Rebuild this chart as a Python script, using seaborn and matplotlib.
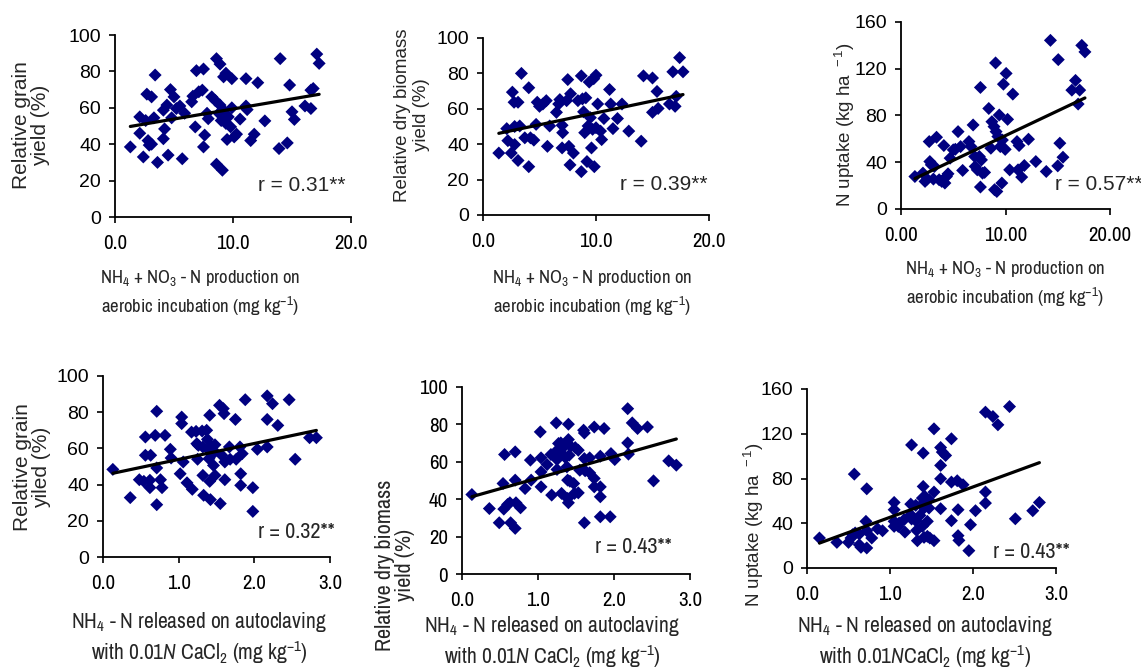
import matplotlib
matplotlib.use("Agg")
import matplotlib.pyplot as plt
from matplotlib import font_manager as fm
import seaborn as sns
import pandas as pd

# ---- data: (x, y) observations for each soil-test relationship ----
grain_vs_incubation = [
    (1.3, 38.5), (2.1, 55), (2.1, 46), (2.4, 33), (2.6, 53), (2.7, 67.5), (2.8, 42), (2.9, 39.5),
    (3.1, 66), (3.1, 40), (3.3, 54.5), (3.4, 78), (3.6, 30), (4.1, 43), (4.1, 58.7), (4.2, 48.4),
    (4.4, 61.5), (4.5, 34), (4.7, 70), (4.8, 54.5), (5.0, 66), (5.2, 59.6), (5.5, 61), (5.7, 32),
    (5.9, 57), (6.5, 63.3), (6.6, 66.4), (6.8, 49.5), (6.9, 80.4), (7.1, 68.8), (7.4, 69.7),
    (7.5, 81.3), (7.6, 45), (7.5, 38.5), (7.8, 57), (7.9, 54), (8.2, 66), (8.5, 64), (8.6, 87),
    (8.6, 29), (8.8, 57), (8.9, 84), (8.9, 61.5), (9.0, 53), (9.1, 25.7), (9.2, 58.7), (9.2, 77),
    (9.4, 79), (9.4, 51.4), (9.5, 42.6), (9.6, 55), (9.8, 49.5), (9.9, 76), (9.9, 60), (10.1, 44),
    (10.3, 45.5), (10.6, 53.8), (11.1, 76), (11.1, 61), (11.2, 59), (11.5, 42), (11.8, 45.5),
    (12.1, 73.8), (12.7, 52.8), (13.9, 37.6), (14.0, 87), (14.6, 40.7), (14.8, 72.5), (15.0, 57.8),
    (15.2, 53.6), (16.1, 61), (16.6, 69.7), (16.6, 59.6), (16.8, 70.6), (17.1, 89.5), (17.3, 84.4),
]

biomass_vs_incubation = [
    (1.4, 35), (2.1, 48.8), (2.2, 42), (2.5, 35), (2.6, 69.4), (2.75, 63.7), (2.8, 39.8), (2.8, 50),
    (3.1, 63.7), (3.1, 30.8), (3.25, 50.3), (3.4, 80), (3.7, 43.6), (4.05, 27.3), (4.05, 71.9),
    (4.2, 43.6), (4.5, 42.3), (4.7, 51.2), (4.8, 63.7), (5.0, 61.4), (5.3, 62.7), (5.6, 64.6),
    (5.7, 38.8), (5.9, 50.3), (6.5, 58), (6.7, 62.7), (6.8, 65.2), (7.0, 50.7), (7.05, 46.5),
    (7.0, 37.9), (7.4, 64.6), (7.5, 76.5), (7.6, 38.8), (7.7, 28.3), (7.75, 68.5), (8.0, 35),
    (8.4, 64.6), (8.7, 78.6), (8.7, 24.5), (8.8, 65.6), (8.9, 58.3), (9.0, 46.5), (9.1, 66.2),
    (9.2, 30.2), (9.3, 50.3), (9.4, 75.1), (9.5, 55), (9.6, 37.9), (9.7, 48.4), (9.8, 77),
    (9.85, 27.3), (10.0, 79), (10.0, 49.3), (10.15, 62.7), (10.4, 47.4), (10.5, 42.6), (10.7, 54.5),
    (11.2, 70.9), (11.3, 62.7), (11.5, 48.8), (11.9, 54.5), (12.3, 62.7), (12.9, 47.4), (14.0, 41.7),
    (14.2, 78.6), (15.0, 77.4), (15.0, 58), (15.4, 69.8), (15.5, 60.2), (16.5, 62.7), (16.8, 80.9),
    (17.0, 61.4), (17.1, 67), (17.4, 88.9), (17.7, 80.9),
]

uptake_vs_incubation = [
    (1.33, 27.8), (2.1, 30.7), (2.3, 23.6), (2.5, 25.6), (2.7, 57.7), (2.76, 40.6), (2.9, 37.8),
    (3.1, 25.6), (3.2, 36.4), (3.4, 61.4), (3.65, 25), (3.9, 23.6), (4.1, 54.3), (4.2, 22.2),
    (4.35, 27.8), (4.5, 30.1), (4.7, 43.5), (5.0, 50.6), (5.2, 51.1), (5.46, 66.2), (5.7, 53.4),
    (5.9, 33), (6.5, 57.7), (6.7, 53.4), (6.9, 71.9), (7.05, 44.9), (7.1, 36.4), (7.3, 33.5),
    (7.5, 44.9), (7.6, 104), (7.6, 18.8), (7.7, 42), (7.8, 30.7), (8.0, 31.3), (8.4, 86), (8.6, 52),
    (8.7, 74.7), (8.9, 70.5), (8.95, 16.5), (9.05, 125), (9.1, 66.2), (9.17, 15), (9.27, 62),
    (9.4, 80.4), (9.5, 53.4), (9.65, 22.2), (9.7, 59), (9.8, 106.8), (9.97, 51), (10.06, 116),
    (10.2, 76.7), (10.4, 33.5), (10.7, 98.3), (11.1, 57.7), (11.2, 33.5), (11.3, 54.3),
    (11.55, 27.3), (11.8, 37.2), (12.2, 59.7), (12.9, 40.6), (13.9, 32.1), (14.3, 144.3),
    (15.0, 36.9), (15.05, 127.8), (15.2, 56.3), (15.5, 44.3), (16.35, 101.7), (16.7, 110),
    (16.95, 89.8), (17.1, 101.7), (17.3, 140), (17.6, 134.4),
]

grain_vs_autoclave = [
    (0.13, 48.4), (0.36, 32.8), (0.48, 42.7), (0.54, 41.8), (0.56, 66.3), (0.56, 56.2), (0.62, 42.4),
    (0.62, 38.3), (0.63, 56.2), (0.69, 67.2), (0.71, 80.5), (0.71, 49.2), (0.71, 28.9), (0.76, 42.7),
    (0.78, 38.3), (0.82, 67.2), (0.89, 59.5), (0.9, 54.7), (1.02, 46), (1.04, 77.3), (1.04, 73.7),
    (1.06, 52.5), (1.11, 41), (1.18, 37.4), (1.17, 69), (1.23, 69.4), (1.24, 62.6), (1.25, 54),
    (1.26, 61.7), (1.31, 69.6), (1.32, 60.8), (1.32, 45.1), (1.33, 34.1), (1.37, 70), (1.38, 65),
    (1.4, 59), (1.4, 54.3), (1.41, 78.3), (1.41, 41.8), (1.42, 31.7), (1.43, 61.3), (1.44, 56.5),
    (1.46, 50.6), (1.47, 58.4), (1.48, 45.1), (1.48, 62), (1.54, 83.8), (1.55, 29.5), (1.57, 56.2),
    (1.59, 82), (1.6, 79.2), (1.61, 52.5), (1.61, 42.7), (1.67, 60.8), (1.68, 54), (1.75, 76),
    (1.76, 54), (1.81, 60.8), (1.82, 46), (1.82, 39.6), (1.84, 57.1), (1.88, 86.9), (1.98, 38.3),
    (1.98, 25.2), (2.04, 59.5), (2.17, 89), (2.17, 60.8), (2.17, 76), (2.24, 84.7), (2.31, 72.7),
    (2.46, 86.9), (2.54, 54), (2.73, 65.9), (2.82, 65.9),
]

biomass_vs_autoclave = [
    (0.13, 42.5), (0.36, 35), (0.49, 27.4), (0.55, 34.7), (0.54, 48.4), (0.56, 63.9), (0.6, 37.2),
    (0.63, 38.1), (0.64, 27.4), (0.7, 24.4), (0.7, 50.2), (0.7, 65.3), (0.71, 38.1), (0.77, 35.4),
    (0.83, 45.7), (0.9, 60.9), (0.91, 50.2), (1.03, 76), (1.04, 62.1), (1.04, 54.6), (1.04, 46.6),
    (1.12, 58.5), (1.17, 63.9), (1.18, 42.2), (1.24, 80.8), (1.24, 65.7), (1.25, 61.2), (1.25, 55.9),
    (1.27, 69.8), (1.3, 70.1), (1.31, 43.1), (1.31, 64.4), (1.34, 68), (1.36, 62.3), (1.38, 57.3),
    (1.39, 50.2), (1.39, 40.4), (1.4, 71.9), (1.4, 38.1), (1.4, 80.1), (1.41, 63.5), (1.42, 49.6),
    (1.43, 68.3), (1.47, 48.4), (1.48, 43.1), (1.49, 67.6), (1.53, 66.2), (1.53, 43.4), (1.55, 55.5),
    (1.6, 76.9), (1.61, 75.4), (1.61, 61.7), (1.61, 27.4), (1.62, 55.2), (1.68, 62.1), (1.68, 54.1),
    (1.74, 51.1), (1.74, 46.6), (1.74, 78.6), (1.82, 63), (1.82, 46.6), (1.82, 41.3), (1.82, 30.6),
    (1.87, 77.8), (1.95, 30.6), (1.96, 64.4), (2.01, 61.2), (2.18, 88.4), (2.18, 70.1), (2.19, 64.1),
    (2.24, 80.8), (2.31, 77.8), (2.44, 78.6), (2.52, 49.8), (2.72, 60.5), (2.82, 58.2),
]

uptake_vs_autoclave = [
    (0.15, 26.8), (0.36, 22.9), (0.5, 22.9), (0.53, 26.8), (0.55, 29.8), (0.57, 83.9), (0.58, 31.3),
    (0.63, 30.4), (0.63, 20.8), (0.65, 18.5), (0.71, 41.7), (0.72, 70.8), (0.72, 33.3), (0.72, 17.9),
    (0.78, 26.8), (0.85, 35.1), (0.91, 33.3), (1.05, 58.6), (1.05, 52.1), (1.05, 41.7), (1.05, 37.2),
    (1.1, 37.2), (1.11, 40.2), (1.17, 43.2), (1.18, 32.1), (1.25, 57.1), (1.25, 47.6), (1.26, 110),
    (1.26, 43.8), (1.31, 56), (1.31, 42.3), (1.32, 33.6), (1.33, 24.4), (1.36, 47), (1.38, 56.5),
    (1.39, 62.5), (1.39, 37.2), (1.4, 72.9), (1.4, 102.7), (1.41, 27.4), (1.41, 53.6), (1.42, 64),
    (1.43, 61.9), (1.45, 28.3), (1.45, 41.7), (1.47, 53.6), (1.47, 61), (1.48, 26.8), (1.53, 67.9),
    (1.53, 124.4), (1.53, 24.4), (1.61, 79.8), (1.61, 91.7), (1.61, 53), (1.61, 107.7), (1.63, 103.6),
    (1.67, 100.6), (1.74, 115.5), (1.74, 76.8), (1.74, 42.3), (1.81, 78), (1.82, 52.1), (1.82, 28.9),
    (1.83, 24.7), (1.88, 74.4), (1.95, 15.5), (1.97, 38.7), (2.03, 51.2), (2.15, 67.9), (2.15, 58),
    (2.15, 139.3), (2.24, 135.4), (2.3, 128), (2.44, 144.3), (2.51, 44), (2.72, 51.2), (2.8, 58.6),
]

r_labels = ["r = 0.31**", "r = 0.39**", "r = 0.57**", "r = 0.32**", "r = 0.43**", "r = 0.43**"]

x_ticks_incubation = [0, 10, 20]
x_ticklabels_incubation = ["0.0", "10.0", "20.0"]
x_ticklabels_incubation_uptake = ["0.00", "10.00", "20.00"]
x_ticks_autoclave = [0, 1, 2, 3]
x_ticklabels_autoclave = ["0.0", "1.0", "2.0", "3.0"]
y_ticks_yield = [0, 20, 40, 60, 80, 100]
y_ticks_uptake = [0, 40, 80, 120, 160]

xlabel_incubation = "NH$_4$ + NO$_3$ - N production on\naerobic incubation (mg kg$^{-1}$)"
xlabel_autoclave = "NH$_4$ - N released on autoclaving\nwith 0.01$\\mathit{N}$ CaCl$_2$ (mg kg$^{-1}$)"
xlabel_autoclave_tight = "NH$_4$ - N released on autoclaving\nwith 0.01$\\mathit{N}$CaCl$_2$ (mg kg$^{-1}$)"
ylabel_grain = "Relative grain\nyield (%)"
ylabel_grain_b = "Relative grain\nyiled (%)"
ylabel_biomass = "Relative dry biomass\nyield (%)"
ylabel_uptake = "N uptake (kg ha$^{\\ \\ -1}$)"

# ---- fonts: a narrow sans for most labels, an Arial-like sans for the rest ----
sns.set_style("ticks")
_installed = {f.name for f in fm.fontManager.ttflist}
NARROW_NAME = next((n for n in ["Liberation Sans Narrow", "Arial Narrow", "Archivo Narrow",
                                "Roboto Condensed", "Asap Condensed"] if n in _installed),
                   "Liberation Sans")
NAR = [NARROW_NAME, "DejaVu Sans"]
REG = ["Liberation Sans", "DejaVu Sans"]
plt.rcParams["font.family"] = NAR
plt.rcParams["mathtext.fontset"] = "custom"
plt.rcParams["mathtext.rm"] = NARROW_NAME
plt.rcParams["mathtext.it"] = NARROW_NAME + ":italic"
plt.rcParams["mathtext.default"] = "regular"

MARK = "#000080"
W, H = 1141, 670
fig = plt.figure(figsize=(W / 100, H / 100), dpi=100)
fig.patch.set_facecolor("white")


def axes_at(box):
    x0, yt, x1, yb = box
    return fig.add_axes([x0 / W, 1 - yb / H, (x1 - x0) / W, (yb - yt) / H])


def frac(box, px, py):
    x0, yt, x1, yb = box
    return (px - x0) / (x1 - x0), (yb - py) / (yb - yt)


panels = [
    dict(data=grain_vs_incubation, box=(115, 35, 351, 217), xlim=20, ylim=100,
         xt=x_ticks_incubation, xtl=x_ticklabels_incubation, yt=y_ticks_yield,
         ytf=(REG, 14), xtf=(NAR, 15),
         xl=xlabel_incubation, xl_pos=(200, 293), xlf=(13.5, 1.35),
         yl=ylabel_grain, yl_pos=(31, 125), ylf=(REG, 15, 0.95),
         r_pos=(258, 185), rf=(REG, 15)),
    dict(data=biomass_vs_incubation, box=(483, 38, 709, 215), xlim=20, ylim=100,
         xt=x_ticks_incubation, xtl=x_ticklabels_incubation, yt=y_ticks_yield,
         ytf=(REG, 14), xtf=(NAR, 15),
         xl=xlabel_incubation, xl_pos=(592, 293), xlf=(13.5, 1.35),
         yl=ylabel_biomass, yl_pos=(412, 115), ylf=(REG, 13.5, 1.1),
         r_pos=(620, 185), rf=(REG, 15)),
    dict(data=uptake_vs_incubation, box=(901, 22, 1110, 209), xlim=20, ylim=160,
         xt=x_ticks_incubation, xtl=x_ticklabels_incubation_uptake, yt=y_ticks_uptake,
         ytf=(REG, 14), xtf=(NAR, 15),
         xl=xlabel_incubation, xl_pos=(1005, 284), xlf=(13.5, 1.35),
         yl=ylabel_uptake, yl_pos=(845, 125), ylf=(REG, 13.5, 1.0),
         r_pos=(1055, 185), rf=(REG, 15)),
    dict(data=grain_vs_autoclave, box=(103, 376, 330, 557), xlim=3, ylim=100,
         xt=x_ticks_autoclave, xtl=x_ticklabels_autoclave, yt=y_ticks_yield,
         ytf=(REG, 14), xtf=(NAR, 15),
         xl=xlabel_autoclave, xl_pos=(199, 638), xlf=(15.5, 1.2),
         yl=ylabel_grain_b, yl_pos=(32, 467), ylf=(REG, 15, 1.05),
         r_pos=(258, 532), rf=(NAR, 16)),
    dict(data=biomass_vs_autoclave, box=(462, 387, 690, 574), xlim=3, ylim=100,
         xt=x_ticks_autoclave, xtl=x_ticklabels_autoclave, yt=y_ticks_yield,
         ytf=(NAR, 15), xtf=(NAR, 15),
         xl=xlabel_autoclave, xl_pos=(552, 642), xlf=(15.5, 1.2),
         yl=ylabel_biomass, yl_pos=(395, 565), ylf=(NAR, 16, 1.05),
         r_pos=(595, 547), rf=(NAR, 16)),
    dict(data=uptake_vs_autoclave, box=(807, 389, 1056, 568), xlim=3, ylim=160,
         xt=x_ticks_autoclave, xtl=x_ticklabels_autoclave, yt=y_ticks_uptake,
         ytf=(REG, 14), xtf=(NAR, 15),
         xl=xlabel_autoclave_tight, xl_pos=(925, 642), xlf=(15.5, 1.2),
         yl=ylabel_uptake, yl_pos=(754, 525), ylf=(REG, 13.5, 1.0),
         r_pos=(993, 552), rf=(NAR, 16)),
]

for p, rlab in zip(panels, r_labels):
    ax = axes_at(p["box"])
    df = pd.DataFrame(p["data"], columns=["x", "y"])
    sns.regplot(data=df, x="x", y="y", ax=ax, ci=None, truncate=True, marker="D",
                scatter_kws=dict(s=44, color=MARK, alpha=1, edgecolor="none", linewidths=0,
                                 zorder=2),
                line_kws=dict(color="black", lw=2.3, zorder=3))
    ax.set_xlim(0, p["xlim"])
    ax.set_ylim(0, p["ylim"])
    ax.set_xticks(p["xt"])
    ax.set_xticklabels(p["xtl"])
    ax.set_yticks(p["yt"])
    ax.set_facecolor("none")
    sns.despine(ax=ax)
    for s in ("left", "bottom"):
        ax.spines[s].set_linewidth(1.3)
        ax.spines[s].set_color("black")
    ax.tick_params(axis="both", direction="out", length=4, width=1.2, colors="black")
    ax.tick_params(axis="y", pad=6)
    ax.tick_params(axis="x", pad=8)
    for lbl in ax.get_yticklabels():
        lbl.set_fontfamily(p["ytf"][0])
        lbl.set_fontsize(p["ytf"][1])
    for lbl in ax.get_xticklabels():
        lbl.set_fontfamily(p["xtf"][0])
        lbl.set_fontsize(p["xtf"][1])

    ax.set_xlabel(p["xl"], fontsize=p["xlf"][0], linespacing=p["xlf"][1], ha="center")
    ax.xaxis.set_label_coords(*frac(p["box"], *p["xl_pos"]))
    ax.xaxis.label.set_va("center")

    yfam, ysize, yls = p["ylf"]
    ax.set_ylabel(p["yl"], fontsize=ysize, linespacing=yls, ha="center", family=yfam)
    ax.yaxis.set_label_coords(*frac(p["box"], *p["yl_pos"]))
    ax.yaxis.label.set_va("center")

    ax.text(*frac(p["box"], *p["r_pos"]), rlab, transform=ax.transAxes,
            fontsize=p["rf"][1], family=p["rf"][0], ha="left", va="center")

fig.savefig("out.png", dpi=100, facecolor="white")
